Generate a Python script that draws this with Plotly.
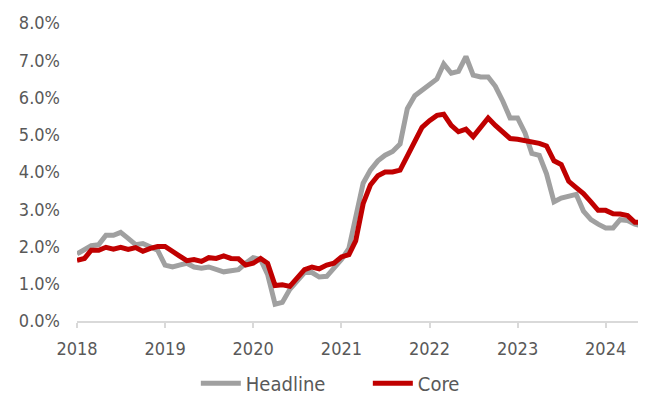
import pandas as pd
import plotly.graph_objects as go

months = pd.date_range("2018-01-01", "2024-06-01", freq="MS")

headline = [
    1.80, 1.90, 2.02, 2.05, 2.30, 2.30, 2.38, 2.22, 2.05, 2.08, 2.00, 1.90,  # 2018
    1.50, 1.45, 1.50, 1.55, 1.45, 1.42, 1.45, 1.40, 1.32, 1.35, 1.38, 1.55,  # 2019
    1.70, 1.65, 1.25, 0.45, 0.50, 0.85, 1.05, 1.30, 1.30, 1.18, 1.20, 1.40,  # 2020
    1.65, 1.95, 2.75, 3.70, 4.05, 4.30, 4.45, 4.55, 4.75, 5.70, 6.05, 6.20,  # 2021
    6.35, 6.50, 6.90, 6.65, 6.70, 7.10, 6.60, 6.55, 6.55, 6.30, 5.90, 5.45,  # 2022
    5.45, 5.05, 4.50, 4.45, 3.95, 3.20, 3.30, 3.35, 3.40, 2.95, 2.72, 2.60,  # 2023
    2.50, 2.50, 2.72, 2.70, 2.60, 2.55,                                      # 2024
]

core = [
    1.63, 1.68, 1.90, 1.90, 1.98, 1.93, 1.98, 1.92, 1.97, 1.87, 1.95, 2.00,  # 2018
    2.00, 1.85, 1.75, 1.62, 1.65, 1.60, 1.70, 1.68, 1.75, 1.68, 1.67, 1.50,  # 2019
    1.55, 1.68, 1.55, 0.95, 0.97, 0.93, 1.15, 1.38, 1.45, 1.40, 1.50, 1.55,  # 2020
    1.72, 1.78, 2.15, 3.15, 3.65, 3.90, 4.00, 4.00, 4.05, 4.45, 4.85, 5.20,  # 2021
    5.38, 5.52, 5.55, 5.25, 5.08, 5.15, 4.95, 5.20, 5.45, 5.25, 5.05, 4.90,  # 2022
    4.88, 4.85, 4.80, 4.77, 4.70, 4.30, 4.20, 3.75, 3.58, 3.42, 3.20, 2.97,  # 2023
    2.97, 2.88, 2.87, 2.83, 2.65, 2.65,                                      # 2024
]

year_ticks = ["2018-01-01", "2019-01-01", "2020-01-01", "2021-01-01",
              "2022-01-01", "2023-01-01", "2024-01-01"]
year_labels = ["2018", "2019", "2020", "2021", "2022", "2023", "2024"]
y_ticks = [0, 1, 2, 3, 4, 5, 6, 7, 8]
y_labels = ["0.0%", "1.0%", "2.0%", "3.0%", "4.0%", "5.0%", "6.0%", "7.0%", "8.0%"]

FONT = "DejaVu Sans Condensed, DejaVu Sans, sans-serif"
TXT = "#595959"

fig = go.Figure()
fig.add_trace(go.Scatter(x=months, y=headline, mode="lines", name="Headline",
                         line=dict(color="#A0A0A0", width=5)))
fig.add_trace(go.Scatter(x=months, y=core, mode="lines", name="Core",
                         line=dict(color="#C00000", width=5)))

# page body has an 8px default margin, so the figure is sized/offset to fit
fig.update_layout(
    width=638, height=397,
    margin=dict(l=69, r=2, t=15, b=84, autoexpand=False),
    paper_bgcolor="white", plot_bgcolor="white",
    font=dict(family=FONT, color=TXT, size=18),
    showlegend=True,
    legend=dict(orientation="h", xref="container", yref="container",
                x=0.564, xanchor="center", y=0.055, yanchor="middle",
                font=dict(family=FONT, color=TXT, size=20),
                itemwidth=40, tracegroupgap=0,
                entrywidth=117, entrywidthmode="pixels"),
    xaxis=dict(range=["2018-01-01", "2024-06-08"], tickvals=year_ticks,
               ticktext=year_labels, showgrid=False, zeroline=False,
               showline=True, linecolor="#D9D9D9", linewidth=1.5,
               ticks="outside", ticklen=5, tickcolor="#D9D9D9", tickwidth=1.5,
               ticklabelstandoff=6, automargin=False,
               tickfont=dict(family=FONT, color=TXT, size=18)),
    yaxis=dict(range=[0, 8], tickvals=y_ticks, ticktext=y_labels,
               showgrid=False, zeroline=False, showline=False,
               ticks="", ticklabelstandoff=16, automargin=False,
               tickfont=dict(family=FONT, color=TXT, size=18)),
)

fig.write_html("out.html")
